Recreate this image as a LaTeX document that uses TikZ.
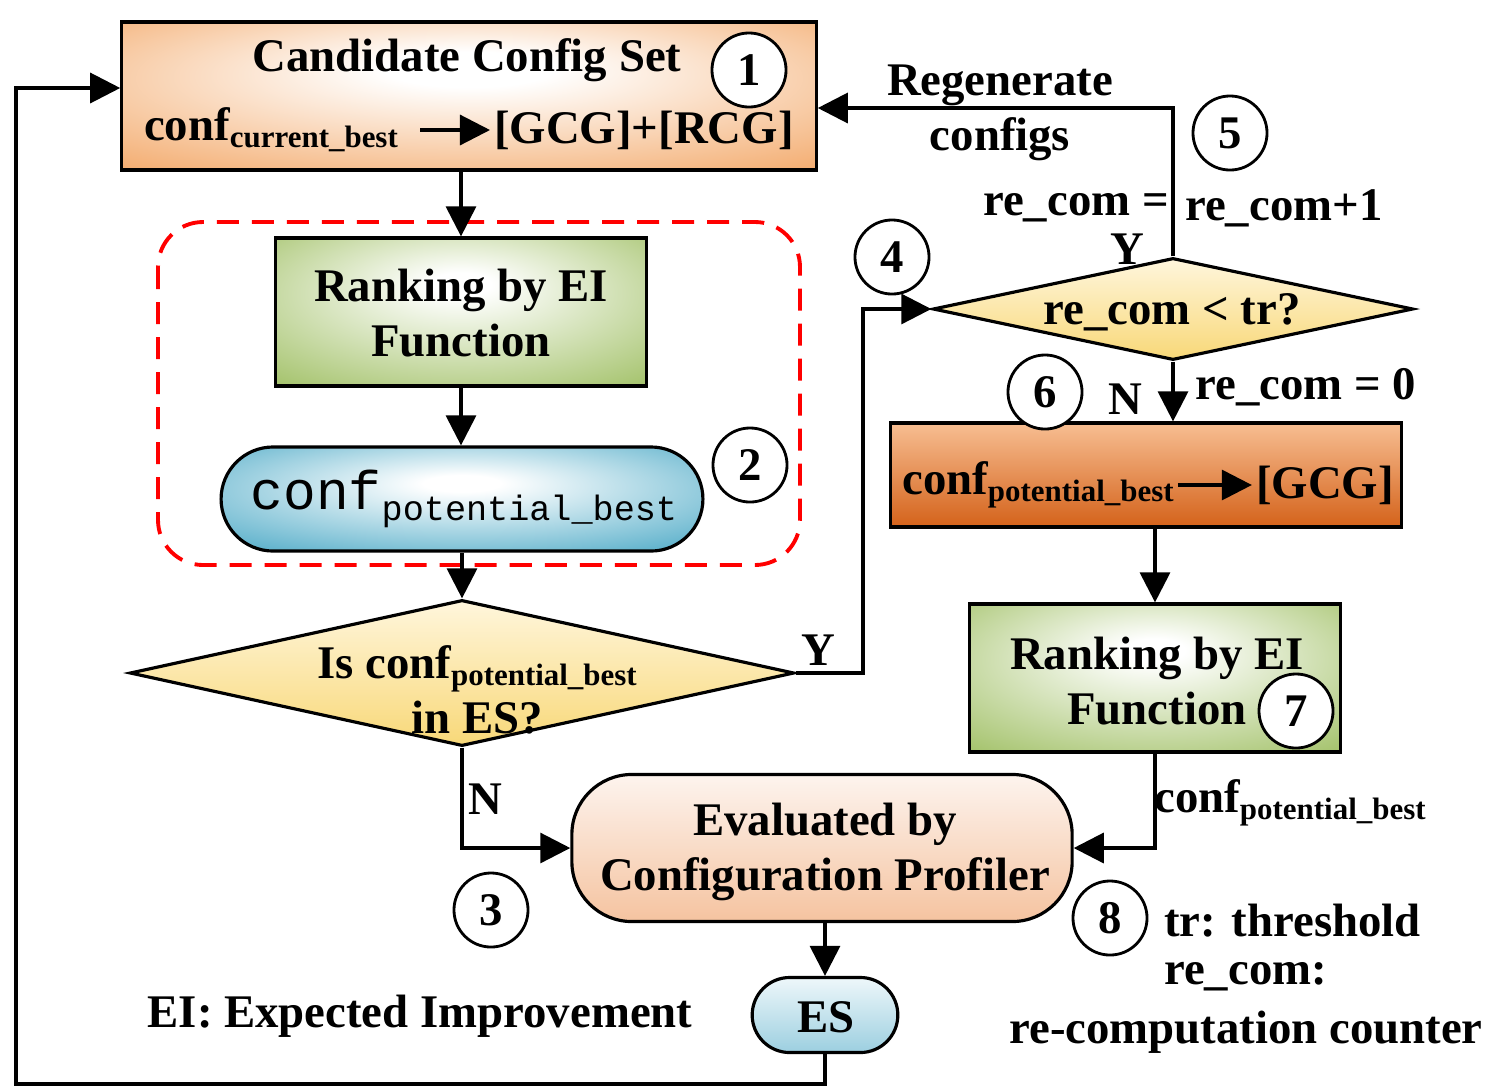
\documentclass[tikz,border=0pt]{standalone}
\usepackage{fontspec}
\setmainfont{Liberation Serif}
\newfontfamily\monofont{Liberation Mono}
\usetikzlibrary{arrows.meta,shapes.geometric,shapes.misc,positioning}
\definecolor{candorange}{HTML}{F2A25E}
\definecolor{rankgreen}{HTML}{9FBF63}
\definecolor{poolblue}{HTML}{58AFCA}
\definecolor{resettop}{HTML}{F7BE92}
\definecolor{resetmid}{HTML}{EE9450}
\definecolor{resetbottom}{HTML}{D4621A}
\definecolor{evaltop}{HTML}{FDF4EE}
\definecolor{evalbottom}{HTML}{F5C3A0}
\definecolor{decidetop}{HTML}{FFF6DC}
\definecolor{decidebottom}{HTML}{F8D878}
\definecolor{estop}{HTML}{EEF7FA}
\definecolor{esbottom}{HTML}{9CCFE0}
\pgfdeclareradialshading{candglow}{\pgfpoint{0bp}{10bp}}{color(0bp)=(white); color(6bp)=(white); color(42bp)=(candorange); color(60bp)=(candorange)}
\pgfdeclareradialshading{rankglow}{\pgfpoint{0bp}{10bp}}{color(0bp)=(white); color(4bp)=(white); color(40bp)=(rankgreen); color(60bp)=(rankgreen)}
\pgfdeclareradialshading{poolglow}{\pgfpoint{0bp}{8bp}}{color(0bp)=(white); color(4bp)=(white); color(36bp)=(poolblue); color(60bp)=(poolblue)}
\newcommand{\cfg}[1]{conf\raisebox{-2pt}{\fontsize{8.8}{10}\selectfont #1}}

\begin{document}
\begin{tikzpicture}[x=0.01cm, y=-0.01cm,
    every node/.style={font=\fontsize{13.3}{15.8}\selectfont\bfseries},
    flow/.style={line width=0.9pt, -{Triangle[length=0.3cm,width=0.3cm]}},
    groupline/.style={red, line width=1.1pt, dash pattern=on 0.22cm off 0.13cm, rounded corners=0.45cm},
    candbox/.style={draw, line width=0.9pt, shade, shading=candglow, minimum width=6.94cm, minimum height=1.48cm},
    rankbox/.style={draw, line width=0.9pt, shade, shading=rankglow, minimum width=3.70cm, minimum height=1.48cm},
    resetbox/.style={draw, line width=0.9pt, top color=resettop, middle color=resetmid, bottom color=resetbottom, minimum width=5.10cm, minimum height=1.04cm},
    pool/.style={rounded rectangle, draw, line width=0.9pt, shade, shading=poolglow, minimum width=5.05cm, minimum height=1.04cm},
    evalbox/.style={draw, line width=0.9pt, rounded corners=0.6cm, top color=evaltop, bottom color=evalbottom, minimum width=5.00cm, minimum height=1.47cm},
    esbox/.style={rounded rectangle, draw, line width=0.9pt, top color=estop, bottom color=esbottom, minimum width=1.69cm, minimum height=0.75cm},
    decide/.style={diamond, draw, line width=0.9pt, inner sep=0pt, top color=decidetop, bottom color=decidebottom},
    num/.style={circle, draw, fill=white, line width=0.8pt, minimum size=0.74cm, inner sep=0pt},
    txt/.style={inner sep=1pt, align=center}]

\useasboundingbox (0,0) rectangle (1509,1087);

\draw[groupline] (158,222) rectangle (800,565);

\node[candbox] (cand) at (469,96) {};
\node[txt] (candtitle) at (467,60) {Candidate Config Set};
\node[txt, anchor=west] (curbest) at (140,130) {\cfg{current\_best}};
\node[txt, anchor=west] (gcgrcg) at (490,130) {[GCG]+[RCG]};
\draw[flow] ([xshift=0.18cm]curbest.east) -- (curbest.east -| gcgrcg.west);

\node[rankbox] (rank1) at (461,312) {};
\node[txt] (rank1text) at (461,313) {Ranking by EI\\Function};
\node[pool] (pool) at (462,499) {};
\node[txt, font=\monofont\fontsize{15.5}{18}\selectfont] (pooltext) at (464,499) {conf\raisebox{-3pt}{\fontsize{10}{12}\selectfont potential\_best}};

\node[decide, minimum width=6.64cm, minimum height=1.46cm] (q1) at (462,673) {};
\node[txt] (q1text) at (477,690) {Is \cfg{potential\_best}\\in ES?};

\node[decide, minimum width=4.80cm, minimum height=1.02cm] (q2) at (1173,309) {};
\node[txt] (q2text) at (1172,312) {re\_com < tr?};

\node[resetbox] (reset) at (1146,475) {};
\node[txt, anchor=west] (potbest) at (898,485) {\cfg{potential\_best}};
\node[txt, anchor=east] (gcg) at (1398,485) {[GCG]};
\draw[flow] (potbest.east) -- (potbest.east -| gcg.west);

\node[rankbox] (rank2) at (1155,678) {};
\node[txt] (rank2text) at (1157,681) {Ranking by EI\\Function};

\node[evalbox] (eval) at (822,848) {};
\node[txt] (evaltext) at (825,852) {Evaluated by\\Configuration Profiler};
\node[esbox] (es) at (825,1015) {};
\node[txt] (estext) at (826,1017) {ES};

\coordinate (ybend) at (863,673);
\coordinate (loopcorner) at (16,1084);

\draw[flow] (cand.south -| rank1.north) -- (rank1.north);
\draw[flow] (rank1.south) -- (pool.north -| rank1.south);
\draw[flow] (pool.south) -- (q1.north);
\draw[flow] (q1.east) -- (ybend) |- (q2.west);
\draw[flow] (q2.north) |- ([yshift=-0.12cm]cand.east);
\draw[flow] (q2.south) -- (q2.south |- reset.north);
\draw[flow] (reset.south -| rank2.north) -- (rank2.north);
\draw[flow] (rank2.south) |- (eval.east);
\draw[flow] (q1.south) |- (eval.west);
\draw[flow] (eval.south -| es.north) -- (es.north);
\draw[flow] (es.south) |- (loopcorner) |- ([yshift=0.08cm]cand.west);

\node[txt] (yes1) at (818,650) {Y};
\node[txt] (no1) at (485,799) {N};
\node[txt] (yes2) at (1127,249) {Y};
\node[txt] (no2) at (1125,399) {N};
\node[txt] (regen) at (1000,113) {Regenerate\\configs};
\node[txt, anchor=east] (incleft) at (1173,208) {re\_com =};
\node[txt, anchor=west] (incright) at (1181,208) {re\_com+1};
\node[txt] (resetcount) at (1306,387) {re\_com = 0};
\node[txt, anchor=west] (potlabel) at (1150,803) {\cfg{potential\_best}};

\node[num] (n1) at (749,70) {1};
\node[num] (n2) at (750,465) {2};
\node[num] (n3) at (491,910) {3};
\node[num] (n4) at (892,257) {4};
\node[num] (n5) at (1230,133) {5};
\node[num] (n6) at (1045,392) {6};
\node[num] (n7) at (1296,711) {7};
\node[num] (n8) at (1110,918) {8};

\node[txt] (eilegend) at (420,1016) {EI: Expected Improvement};
\node[txt, anchor=west] (trlegend) at (1160,921) {tr: threshold};
\node[txt, anchor=west] (reclegend) at (1160,977) {re\_com:};
\node[txt] (reclegend2) at (1246,1032) {re-computation counter};

\end{tikzpicture}
\end{document}
